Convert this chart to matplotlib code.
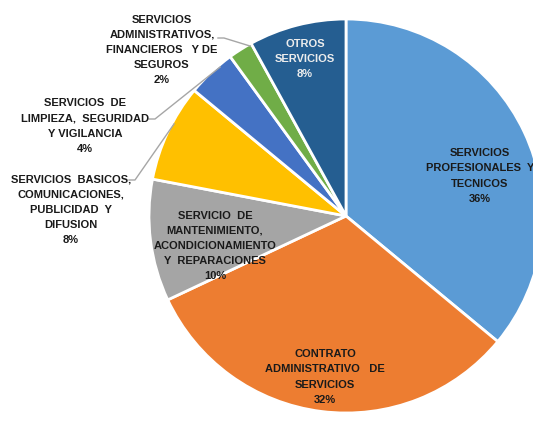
import numpy as np
import matplotlib.pyplot as plt

categories = [
    "SERVICIOS\nPROFESIONALES  Y\nTECNICOS",
    "CONTRATO\nADMINISTRATIVO   DE\nSERVICIOS",
    "SERVICIO  DE\nMANTENIMIENTO,\nACONDICIONAMIENTO\nY  REPARACIONES",
    "SERVICIOS  BASICOS,\nCOMUNICACIONES,\nPUBLICIDAD  Y\nDIFUSION",
    "SERVICIOS  DE\nLIMPIEZA,  SEGURIDAD\nY VIGILANCIA",
    "SERVICIOS\nADMINISTRATIVOS,\nFINANCIEROS   Y DE\nSEGUROS",
    "OTROS\nSERVICIOS",
]
percent = [36, 32, 10, 8, 4, 2, 8]
colors = ["#5B9BD5", "#ED7D31", "#A5A5A5", "#FFC000", "#4472C4", "#70AD47", "#255E91"]

# label centres in pixels of the 533x421 picture
label_px = [(480, 176), (325, 377), (215, 246), (71, 210), (85, 126), (162, 50), (305, 59)]
# where the leader line leaves the label (pixels), None = no leader
leader_px = [None, None, None, (129, 180), (149, 119), (218, 38), None]
text_colors = ["#1a1a1a"] * 6 + ["#EDEDED"]

W, H = 533, 421
cx, cy, R = 346, 216, 197

plt.rcParams['font.family'] = ['Liberation Sans Narrow', 'Liberation Sans', 'DejaVu Sans']

fig = plt.figure(figsize=(W / 100, H / 100), dpi=100)
ax = fig.add_axes([0, 0, 1, 1])
wedges, _ = ax.pie(percent, colors=colors, startangle=90, counterclock=False,
                   wedgeprops=dict(edgecolor="white", linewidth=2))
ax.set_xlim(-cx / R, (W - cx) / R)
ax.set_ylim(-(H - cy) / R, cy / R)
ax.set_aspect('equal', adjustable='datalim')
ax.axis('off')


def to_data(px, py):
    return (px - cx) / R, (cy - py) / R


for w, name, p, pos, lead, tc in zip(wedges, categories, percent, label_px, leader_px, text_colors):
    x, y = to_data(*pos)
    ax.text(x, y, f"{name}\n{p}%", ha='center', va='center', fontsize=8,
            fontweight='bold', color=tc, linespacing=1.65)
    if lead:
        # leader: short horizontal stub, then straight to the slice edge
        mid = np.deg2rad((w.theta1 + w.theta2) / 2 - 3)
        ex, ey = 0.99 * np.cos(mid), 0.99 * np.sin(mid)
        tx, ty = to_data(*lead)
        ax.plot([tx, tx + 6 / R, ex], [ty, ty, ey], color="#A6A6A6", lw=1)

fig.savefig("out.png", dpi=100)
